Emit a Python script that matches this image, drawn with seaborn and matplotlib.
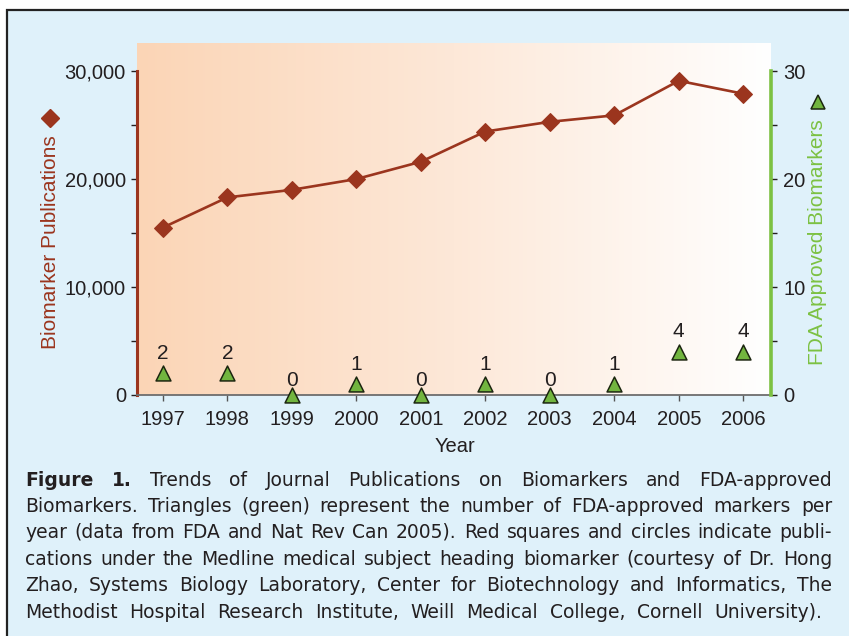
import numpy as np
import pandas as pd
import matplotlib
matplotlib.use("Agg")
import matplotlib.pyplot as plt
from matplotlib.colors import LinearSegmentedColormap
from matplotlib.patches import Rectangle
from matplotlib.ticker import FixedLocator
import seaborn as sns

# ---- data ----
years = [1997, 1998, 1999, 2000, 2001, 2002, 2003, 2004, 2005, 2006]
publications = [15500, 18300, 19000, 20000, 21600, 24400, 25300, 25900, 29100, 27900]
fda_approved = [2, 2, 0, 1, 0, 1, 0, 1, 4, 4]
left_ticks = [0, 10000, 20000, 30000]
left_minor = [5000, 15000, 25000]
right_ticks = [0, 10, 20, 30]
right_minor = [5, 15, 25]

caption_lines = [
    "Figure 1. Trends of Journal Publications on Biomarkers and FDA-approved",
    "Biomarkers. Triangles (green) represent the number of FDA-approved markers per",
    "year (data from FDA and Nat Rev Can 2005). Red squares and circles indicate publi-",
    "cations under the Medline medical subject heading biomarker (courtesy of Dr. Hong",
    "Zhao, Systems Biology Laboratory, Center for Biotechnology and Informatics, The",
    "Methodist Hospital Research Institute, Weill Medical College, Cornell University).",
]

RED = "#9b351e"
GREEN = "#7cc142"
TRI = "#72b53f"
TXT = "#231f20"
BLUE_BG = "#dff1fa"

sns.set_style("ticks")
plt.rcParams["font.family"] = ["Liberation Sans", "DejaVu Sans"]

W, H = 849, 636
fig = plt.figure(figsize=(W / 100, H / 100), dpi=100)
fig.patch.set_facecolor("white")

# light blue box with black frame (behind the axes)
fig.patches.append(Rectangle((7 / W, -0.1), 1.0, 1 - 10 / H + 0.1,
                             transform=fig.transFigure, facecolor=BLUE_BG,
                             edgecolor="#222222", lw=1.6, zorder=-5))


def px_rect(x0, y0, x1, y1):
    return [x0 / W, 1 - y1 / H, (x1 - x0) / W, (y1 - y0) / H]


ax = fig.add_axes(px_rect(137, 43, 771, 395))
ax.patch.set_alpha(0)
xlim = (1996.6, 2006.43)
ylim = (0, 32600)

# peach -> white gradient background
grad_cmap = LinearSegmentedColormap.from_list("peach", ["#fbd5b6", "#fde8d8", "#ffffff"])
grad = np.linspace(0, 1, 256).reshape(1, -1)
ax.imshow(grad, extent=[xlim[0], xlim[1], ylim[0], ylim[1]], aspect="auto",
          cmap=grad_cmap, zorder=0, interpolation="bicubic")

df = pd.DataFrame({"Year": years, "Publications": publications, "FDA": fda_approved})

sns.lineplot(data=df, x="Year", y="Publications", ax=ax, color=RED, lw=1.9,
             marker="D", markersize=9, markeredgecolor=RED, zorder=3)

ax.set_xlim(*xlim)
ax.set_ylim(*ylim)
ax.set_xticks(years)
ax.set_xticklabels([str(y) for y in years])
ax.set_yticks(left_ticks)
ax.set_yticklabels([f"{v:,}" for v in left_ticks])
ax.yaxis.set_minor_locator(FixedLocator(left_minor))
ax.tick_params(axis="y", which="both", length=4, width=1, color=TXT, pad=4,
               labelsize=14.5, labelcolor=TXT)
ax.tick_params(axis="x", length=4, width=1, color="#555555", pad=7,
               labelsize=14.5, labelcolor=TXT)

for s in ["top", "right"]:
    ax.spines[s].set_visible(False)
ax.spines["left"].set_bounds(0, 30000)
ax.spines["left"].set_color(RED)
ax.spines["left"].set_linewidth(2.2)
ax.spines["bottom"].set_color("#6d6d6d")
ax.spines["bottom"].set_linewidth(1.3)

ax.set_xlabel("Year", fontsize=14.5, color=TXT)
ax.xaxis.set_label_coords(0.502, -0.118)
ax.set_ylabel("Biomarker Publications", fontsize=15, color=RED, va="center")
ax.yaxis.set_label_coords(-0.137, 0.435)

# secondary axis: FDA approved biomarkers
ax2 = ax.twinx()
sns.scatterplot(data=df, x="Year", y="FDA", ax=ax2, marker="^", s=115,
                color=TRI, edgecolor="#1c2610", linewidth=1.1, zorder=4,
                clip_on=False, legend=False)
ax2.set_xlim(*xlim)
ax2.set_ylim(0, ylim[1] / 1000)
ax2.set_yticks(right_ticks)
ax2.yaxis.set_minor_locator(FixedLocator(right_minor))
ax2.tick_params(axis="y", which="both", length=4, width=1, color=TXT, pad=5,
                labelsize=14.5, labelcolor=TXT)
for s in ["top", "left", "bottom"]:
    ax2.spines[s].set_visible(False)
ax2.spines["right"].set_bounds(0, 30)
ax2.spines["right"].set_color(GREEN)
ax2.spines["right"].set_linewidth(2.6)
ax2.set_ylabel("FDA Approved Biomarkers", fontsize=15, color=GREEN, va="center")
ax2.yaxis.set_label_coords(1.074, 0.435)

for yr, v in zip(years, fda_approved):
    # zero-count labels sit closer to the axis, as in the original
    off = 3.5 if v == 0 else 7.5
    ax2.annotate(str(v), (yr, v), xytext=(0, off), textcoords="offset points",
                 ha="center", va="bottom", fontsize=15, color=TXT)

# marker keys above the axis titles
fig.lines.append(plt.Line2D([50 / W], [1 - 118 / H], transform=fig.transFigure,
                            marker="D", markersize=9, color=RED, lw=0))
fig.lines.append(plt.Line2D([818 / W], [1 - 102 / H], transform=fig.transFigure,
                            marker="^", markersize=10, color=TRI,
                            markeredgecolor="#1c2610", markeredgewidth=1.1, lw=0))

# justified caption
renderer = fig.canvas.get_renderer()
baselines = [486, 512, 538, 565, 591, 618]
x_left = 25
right_edges = [832, 832, 832, 832, 832, 822]
cap_family = ["DejaVu Sans"]
for i, line in enumerate(caption_lines):
    words = line.split()
    texts = []
    for j, w in enumerate(words):
        bold = i == 0 and j < 2
        t = fig.text(0, 1 - baselines[i] / H, w, fontsize=13.5, family=cap_family,
                     fontweight="bold" if bold else "normal", color=TXT,
                     ha="left", va="baseline")
        texts.append(t)
    widths = [t.get_window_extent(renderer).width for t in texts]
    gap = (right_edges[i] - x_left - sum(widths)) / (len(words) - 1)
    x = x_left
    for t, w in zip(texts, widths):
        t.set_x(x / W)
        x += w + gap

fig.savefig("out.png", dpi=100)
